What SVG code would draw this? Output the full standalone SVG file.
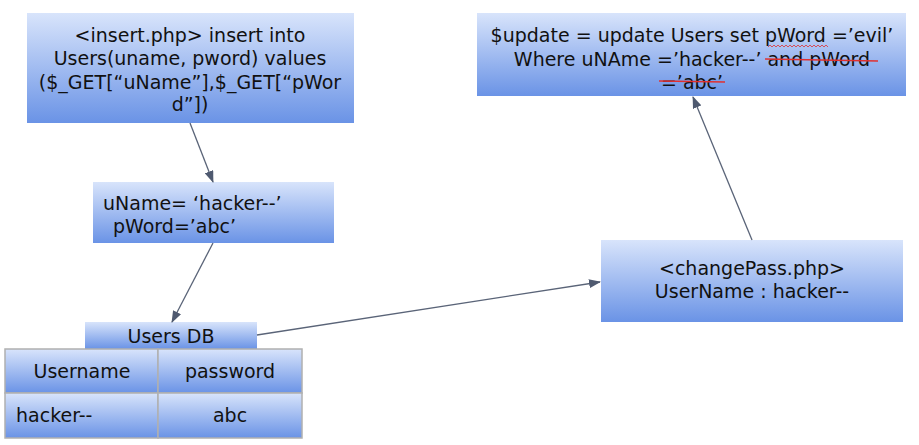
<svg xmlns="http://www.w3.org/2000/svg" width="919" height="445" viewBox="0 0 919 445">
<defs>
<linearGradient id="g" x1="0" y1="0" x2="0" y2="1">
<stop offset="0" stop-color="#d8e4fb"/>
<stop offset="1" stop-color="#6a93e6"/>
</linearGradient>
<marker id="arr" markerWidth="12" markerHeight="9" refX="11" refY="4.5" orient="auto" markerUnits="userSpaceOnUse">
<path d="M0,0 L12,4.5 L0,9 Z" fill="#4f5a70"/>
</marker>
<style>
.box{fill:url(#g);}
.cell{fill:url(#g);stroke:#b0b0b0;stroke-width:1.5;}
.t{font-family:"DejaVu Sans","Noto Sans",sans-serif;font-size:19px;fill:#111;}
.c{text-anchor:middle;}
.edge{stroke:#5a6478;stroke-width:1.3;fill:none;marker-end:url(#arr);}
.red{stroke:#e03030;stroke-width:1.5;fill:none;}
</style>
</defs>
<rect width="919" height="445" fill="#fff"/>
<g id="insert">
<rect class="box" x="27" y="13" width="327" height="110"/>
<text class="t c" x="190" y="42">&lt;insert.php&gt; insert into</text>
<text class="t c" x="190" y="65">Users(uname, pword) values</text>
<text class="t c" x="190" y="89">($_GET[“uName”],$_GET[“pWor</text>
<text class="t c" x="190" y="111">d”])</text>
</g>
<g id="vars">
<rect class="box" x="93" y="182" width="241" height="61"/>
<text class="t" x="103" y="210">uName= ‘hacker--’</text>
<text class="t" x="113" y="233">pWord=’abc’</text>
</g>
<g id="usersdb">
<rect class="box" x="85" y="322" width="172" height="27"/>
<text class="t c" x="171" y="343">Users DB</text>
<rect class="cell" x="5" y="349" width="153" height="44"/>
<rect class="cell" x="158" y="349" width="144" height="44"/>
<rect class="cell" x="5" y="393" width="153" height="45"/>
<rect class="cell" x="158" y="393" width="144" height="45"/>
<text class="t c" x="82" y="378">Username</text>
<text class="t c" x="230" y="378">password</text>
<text class="t" x="16" y="422">hacker--</text>
<text class="t c" x="230" y="422">abc</text>
</g>
<g id="changepass">
<rect class="box" x="601" y="240" width="302" height="82"/>
<text class="t c" x="752" y="275">&lt;changePass.php&gt;</text>
<text class="t c" x="752" y="298">UserName : hacker--</text>
</g>
<g id="update">
<rect class="box" x="477" y="13" width="429" height="83"/>
<text class="t c" x="692" y="42">$update = update Users set pWord =’evil’</text>
<text class="t c" x="692" y="66">Where uNAme =’hacker--’ and pWord</text>
<text class="t c" x="692" y="89">=’abc’</text>
<path class="red" d="M765,59 L878,61"/>
<path class="red" d="M659,81 L725,82"/>
<path d="M768,47 l2,-2 l2,2 l2,-2 l2,2 l2,-2 l2,2 l2,-2 l2,2 l2,-2 l2,2 l2,-2 l2,2 l2,-2 l2,2 l2,-2 l2,2 l2,-2 l2,2 l2,-2 l2,2 l2,-2 l2,2 l2,-2 l2,2 l2,-2 l2,2 l2,-2 l2,2 l2,-2 l2,2" stroke="#e03030" stroke-width="0.8" fill="none"/>
</g>
<g id="connectors">
<path class="edge" d="M190,123 L213,182"/>
<path class="edge" d="M213,243 L172,322"/>
<path class="edge" d="M257,335 L600,282"/>
<path class="edge" d="M752,240 L693,97"/>
</g>
</svg>
